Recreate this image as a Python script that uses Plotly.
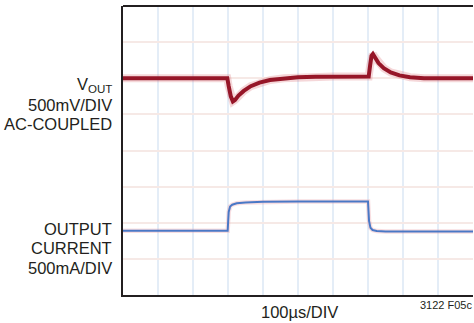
import plotly.graph_objects as go

# Time in divisions (100us/DIV), values in screen divisions
vout_t = [0, 1.0, 2.0, 2.98, 3.02, 3.08, 3.14, 3.2, 3.3, 3.45, 3.65, 3.9, 4.2, 4.6, 5.0, 5.5, 6.0, 6.5, 7.02,
          7.06, 7.1, 7.14, 7.2, 7.3, 7.45, 7.65, 7.9, 8.2, 8.6, 9.0, 9.5, 10.0]
vout_v = [6.0, 6.0, 6.0, 6.0, 5.78, 5.5, 5.36, 5.4, 5.52, 5.65, 5.78, 5.88, 5.95, 6.0, 6.03, 6.04, 6.05, 6.05, 6.05,
          6.35, 6.62, 6.67, 6.58, 6.42, 6.28, 6.16, 6.08, 6.03, 6.0, 6.0, 5.99, 6.0]

iout_t = [0, 1.0, 2.0, 2.99, 3.02, 3.06, 3.12, 3.25, 3.5, 4.0, 5.0, 6.0, 7.0, 7.03, 7.07, 7.13, 7.25, 7.5, 8.0, 9.0, 10.0]
iout_v = [1.78, 1.78, 1.78, 1.78, 2.3, 2.45, 2.5, 2.54, 2.56, 2.58, 2.59, 2.59, 2.59, 2.05, 1.86, 1.8, 1.77, 1.76, 1.76, 1.76, 1.76]

left_labels = ["V<sub>OUT</sub>", "500mV/DIV", "AC-COUPLED", "OUTPUT", "CURRENT", "500mA/DIV"]
left_label_py = [85, 105, 124, 229, 248, 268]
x_label = "100µs/DIV"
fig_id = "3122 F05c"

FONT = "Liberation Sans, Arial, sans-serif"

fig = go.Figure()
fig.add_trace(go.Scatter(x=vout_t, y=vout_v, mode="lines",
                         line=dict(color="rgba(215,95,105,0.25)", width=8), hoverinfo="skip"))
fig.add_trace(go.Scatter(x=vout_t, y=vout_v, mode="lines",
                         line=dict(color="#961628", width=4)))
fig.add_trace(go.Scatter(x=iout_t, y=iout_v, mode="lines",
                         line=dict(color="rgba(235,160,170,0.35)", width=4.5), hoverinfo="skip"))
fig.add_trace(go.Scatter(x=iout_t, y=iout_v, mode="lines",
                         line=dict(color="#4a78c6", width=2)))

W, H = 474, 323
L, R, T, B = 123, 1, 6, 28
pw, ph = W - L - R, H - T - B

annotations = []
for txt, py in zip(left_labels, left_label_py):
    annotations.append(dict(text=txt, xref="paper", yref="paper",
                            x=(114 - L) / pw, y=(H - B - py) / ph,
                            xanchor="right", yanchor="middle", showarrow=False,
                            font=dict(family=FONT, size=16.5, color="#231f20")))
annotations.append(dict(text=x_label, xref="paper", yref="paper", x=(299 - L) / pw,
                        y=(H - B - 312) / ph, xanchor="center", yanchor="middle", showarrow=False,
                        font=dict(family=FONT, size=16.5, color="#231f20")))
annotations.append(dict(text=fig_id, xref="paper", yref="paper", x=(418 - L) / pw,
                        y=(H - B - 305) / ph, xanchor="left", yanchor="middle", showarrow=False,
                        font=dict(family=FONT, size=11, color="#231f20")))

fig.update_layout(
    width=W, height=H,
    margin=dict(l=L, r=R, t=T, b=B),
    paper_bgcolor="white", plot_bgcolor="white",
    showlegend=False,
    annotations=annotations,
    xaxis=dict(range=[0, 10], dtick=1, showticklabels=False, ticks="",
               showgrid=True, gridcolor="#e4edf7", gridwidth=1.5, zeroline=False,
               showline=True, linecolor="#231f20", linewidth=2),
    yaxis=dict(range=[0, 8], dtick=1, showticklabels=False, ticks="",
               showgrid=True, gridcolor="#f6e9e6", gridwidth=1.5, zeroline=False,
               showline=True, linecolor="#231f20", linewidth=2),
    shapes=[dict(type="line", xref="paper", yref="paper", x0=0, x1=1, y0=1, y1=1,
                 line=dict(color="#231f20", width=2))],
)

fig.write_html("out.html", config={"displayModeBar": False},
               post_script="document.body.style.margin='0';document.body.style.overflow='hidden';")
